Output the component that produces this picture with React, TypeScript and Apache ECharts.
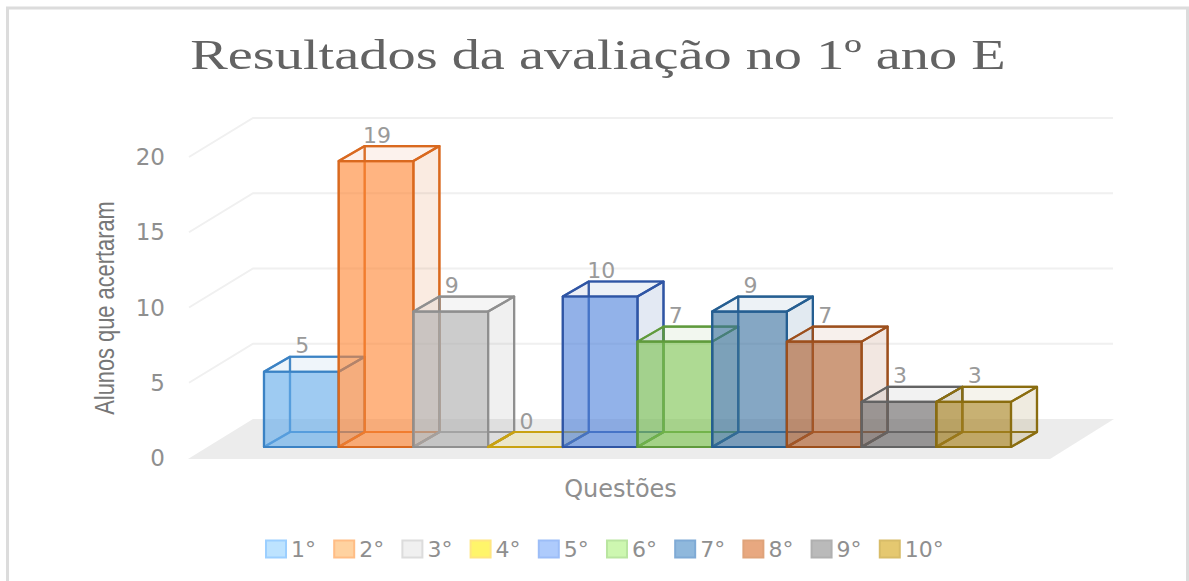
import React, { useEffect, useRef } from "react";
import * as echarts from "echarts";

const questions = ["1°", "2°", "3°", "4°", "5°", "6°", "7°", "8°", "9°", "10°"];
const acertos = [5, 19, 9, 0, 10, 7, 9, 7, 3, 3];
const yTicks = [0, 5, 10, 15, 20];
const titleText = "Resultados da avaliação no 1º ano E";
const xName = "Questões";
const yName = "Alunos que acertaram";

const edgeColors = ["#3b82c4", "#d9691f", "#8f8f8f", "#c9a211", "#2f55a4", "#5f9a3c", "#255e91", "#9c4f1c", "#636363", "#8a6d10"];
const frontColors = ["#62abeb", "#ff8632", "#adadad", "#ffd900", "#4f82dc", "#7cc34f", "#386f9f", "#ad5c2a", "#666363", "#a7801a"];
const legendFill = ["#bde3ff", "#ffd2a0", "#f0f0f0", "#fff56a", "#aecbfc", "#cdf7b0", "#8fb8dc", "#e8a880", "#bababa", "#e5c870"];
const legendEdge = ["#9ccfff", "#ffbd85", "#dcdcdc", "#ffe680", "#9cbdf7", "#b9e5a0", "#7faad5", "#dfa37a", "#b0b0b0", "#d8bc68"];

const FONT = "DejaVu Sans";
const TEXT = "#8f8f8f";
const DX = 26;
const DY = -15;
const FRONT_X = 17;
const FRONT_Y = -11;

function face(points: number[][], fill: string, opacity: number, stroke: string, strokeOpacity = 1) {
  return {
    type: "group",
    children: [
      { type: "polygon", shape: { points }, style: { fill, opacity, stroke: "none" } },
      { type: "polygon", shape: { points }, style: { fill: "none", stroke, lineWidth: 2.2, opacity: strokeOpacity, lineJoin: "round" } },
    ],
  };
}

function barRenderer(seriesIndex: number) {
  return (_params: any, api: any) => {
    const i = api.value(0);
    const v = api.value(1);
    const band = api.size([1, 0])[0];
    const top = api.coord([i, v]);
    const base = api.coord([i, 0]);
    const x0 = top[0] - band / 2 + FRONT_X;
    const x1 = x0 + band;
    const yt = top[1] + FRONT_Y;
    const yb = base[1] + FRONT_Y;
    const edge = edgeColors[seriesIndex];
    const front = frontColors[seriesIndex];
    const children: any[] = [
      face([[x0 + DX, yb + DY], [x1 + DX, yb + DY], [x1 + DX, yt + DY], [x0 + DX, yt + DY]], edge, 0.03, edge, 0.75),
      face([[x0, yb], [x0 + DX, yb + DY], [x0 + DX, yt + DY], [x0, yt]], edge, 0.04, edge, 0.75),
      face([[x0, yb], [x1, yb], [x1 + DX, yb + DY], [x0 + DX, yb + DY]], front, 0.1, edge, 0.75),
      face([[x0, yt], [x1, yt], [x1 + DX, yt + DY], [x0 + DX, yt + DY]], edge, 0.05, edge, 1),
      face([[x1, yb], [x1 + DX, yb + DY], [x1 + DX, yt + DY], [x1, yt]], edge, 0.1, edge, 1),
      face([[x0, yb], [x1, yb], [x1, yt], [x0, yt]], front, 0.6, edge, 1),
      {
        type: "text",
        x: (x0 + x1) / 2 + 1,
        y: yt + DY - 11,
        style: { text: String(v), fill: "#9a9a9a", font: `22px "${FONT}"`, textAlign: "center", textVerticalAlign: "middle" },
      },
    ];
    return { type: "group", children };
  };
}

function wallRenderer(_params: any, api: any) {
  const tick = api.value(1);
  const band = api.size([1, 0])[0];
  const p = api.coord([0, tick]);
  const left = p[0] - band / 2 - 58;
  const right = api.coord([questions.length - 1, tick])[0] + band / 2 + 119;
  const depthX = 64;
  const depthY = -39;
  if (tick === 0) {
    return {
      type: "polygon",
      shape: {
        points: [
          [left - 1, p[1] + 1],
          [left + depthX, p[1] + depthY],
          [right + 1, p[1] + depthY],
          [right + 1 - depthX, p[1] + 1],
        ],
      },
      style: { fill: "#ececec", stroke: "none" },
    };
  }
  return {
    type: "polyline",
    shape: { points: [[left, p[1]], [left + depthX, p[1] + depthY], [right, p[1] + depthY]] },
    style: { fill: "none", stroke: "#f0f0f0", lineWidth: 2 },
  };
}

export default function App() {
  const ref = useRef<HTMLDivElement>(null);
  useEffect(() => {
    document.body.style.margin = "0";
    const chart = echarts.init(ref.current!, null, { renderer: "svg" });
    chart.setOption({
      animation: false,
      backgroundColor: "#ffffff",
      grid: { left: 247, width: 747, top: 157, height: 301 },
      graphic: [
        { type: "rect", shape: { x: 7.5, y: 8, width: 1180, height: 600 }, style: { fill: "none", stroke: "#dcdcdc", lineWidth: 3 }, silent: true },
        {
          type: "text", x: 598, y: 55, scaleX: 1.342,
          style: { text: titleText, fill: "#636363", font: '42px "Liberation Serif"', textAlign: "center", textVerticalAlign: "middle" },
        },
        {
          type: "text", x: 104, y: 308, rotation: Math.PI / 2, scaleX: 0.78,
          style: { text: yName, fill: "#777777", font: '28px "Liberation Sans"', textAlign: "center", textVerticalAlign: "middle" },
        },
      ],
      legend: {
        left: 265, top: 538, padding: 0, itemWidth: 20, itemHeight: 17, itemGap: 17.2, icon: "rect", selectedMode: false,
        textStyle: { color: TEXT, fontFamily: FONT, fontSize: 22 },
        data: questions.map((name, i) => ({
          name,
          itemStyle: { color: legendFill[i], borderColor: legendEdge[i], borderWidth: 2 },
        })),
      },
      xAxis: {
        type: "category", data: questions, name: xName, nameLocation: "middle", nameGap: 19,
        nameTextStyle: { color: TEXT, fontFamily: FONT, fontSize: 24 },
        axisLine: { show: false }, axisTick: { show: false }, axisLabel: { show: false }, splitLine: { show: false },
      },
      yAxis: {
        type: "value", min: 0, max: 20, interval: 5,
        axisLine: { show: false }, axisTick: { show: false }, splitLine: { show: false },
        axisLabel: { color: TEXT, fontFamily: FONT, fontSize: 23, margin: 82 },
      },
      series: [
        {
          type: "custom", name: "grade", silent: true, renderItem: wallRenderer,
          encode: { x: 0, y: 1 }, data: yTicks.map((t) => [0, t]), z: 1,
        },
        ...questions.map((name, i) => ({
          type: "custom", name, renderItem: barRenderer(i), z: 2 + i,
          itemStyle: { color: legendFill[i] },
          encode: { x: 0, y: 1 }, data: [[i, acertos[i]]],
        })),
      ],
    });
    return () => chart.dispose();
  }, []);
  return <div ref={ref} style={{ width: 1189, height: 581 }} />;
}
